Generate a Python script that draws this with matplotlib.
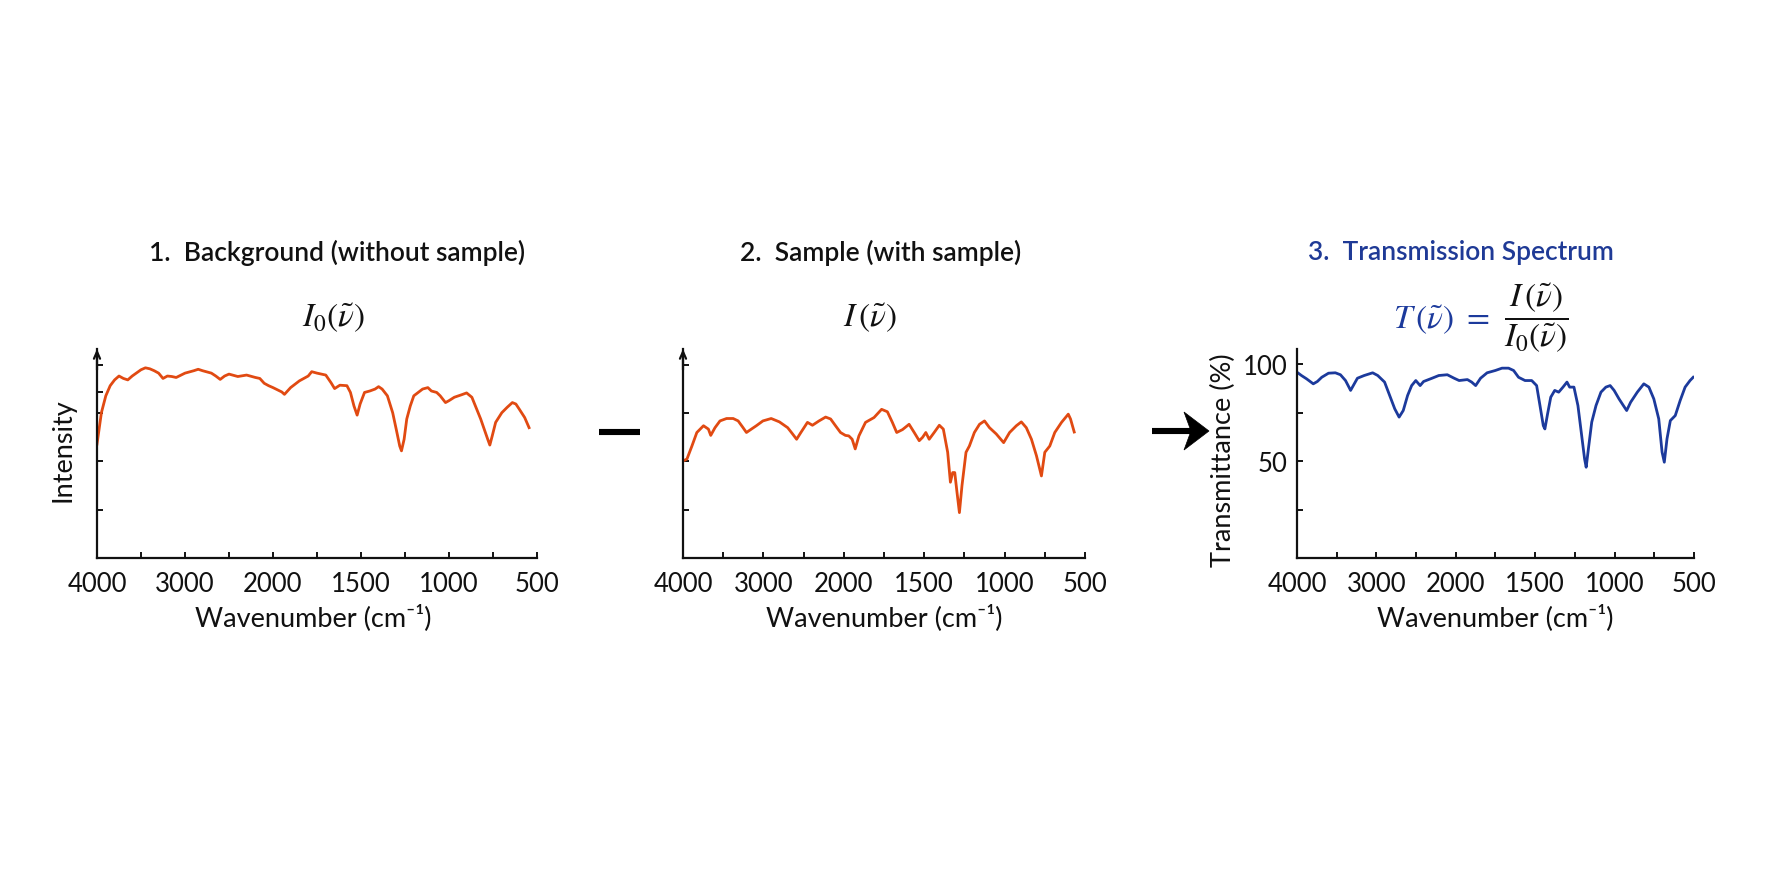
import numpy as np
import matplotlib
matplotlib.use("Agg")
import matplotlib.pyplot as plt
from matplotlib.lines import Line2D
from matplotlib.patches import Polygon

# ---------------- data ----------------
bg_wn = [4000, 3950, 3900, 3850, 3800, 3750, 3700, 3650, 3600, 3500, 3450, 3400, 3350,
         3300, 3250, 3200, 3150, 3100, 3000, 2900, 2850, 2800, 2700, 2650, 2600, 2550,
         2500, 2400, 2300, 2200, 2150, 2100, 2050, 2000, 1950, 1935, 1900, 1850, 1800,
         1780, 1750, 1700, 1670, 1650, 1620, 1580, 1560, 1540, 1522, 1505, 1480, 1450,
         1420, 1400, 1380, 1350, 1320, 1300, 1280, 1270, 1255, 1240, 1220, 1200, 1150,
         1120, 1100, 1070, 1050, 1020, 1000, 970, 930, 900, 870, 850, 820, 800, 780,
         768, 755, 735, 700, 670, 640, 620, 600, 570, 545]
bg_int = [2.36, 3.01, 3.36, 3.57, 3.69, 3.77, 3.72, 3.69, 3.77, 3.90, 3.94, 3.92, 3.88,
          3.83, 3.72, 3.77, 3.76, 3.74, 3.83, 3.88, 3.91, 3.88, 3.83, 3.77, 3.70, 3.77,
          3.81, 3.76, 3.79, 3.74, 3.72, 3.62, 3.57, 3.53, 3.44, 3.39, 3.53, 3.67, 3.77,
          3.86, 3.83, 3.79, 3.63, 3.51, 3.58, 3.57, 3.43, 3.15, 2.96, 3.19, 3.43, 3.46,
          3.50, 3.55, 3.50, 3.36, 3.01, 2.67, 2.32, 2.22, 2.46, 2.88, 3.15, 3.36, 3.50,
          3.53, 3.46, 3.43, 3.36, 3.22, 3.26, 3.33, 3.38, 3.42, 3.33, 3.15, 2.88, 2.67,
          2.46, 2.34, 2.52, 2.81, 3.01, 3.12, 3.22, 3.19, 3.08, 2.91, 2.70]

smp_wn = [4000, 3951, 3889, 3828, 3745, 3684, 3655, 3602, 3540, 3458, 3376, 3314, 3253,
          3211, 3150, 3088, 3006, 2903, 2801, 2698, 2637, 2587, 2534, 2452, 2390, 2308,
          2226, 2164, 2103, 2041, 1990, 1969, 1948, 1929, 1906, 1865, 1812, 1765, 1729,
          1698, 1671, 1635, 1594, 1562, 1531, 1510, 1490, 1469, 1438, 1406, 1381, 1354,
          1337, 1323, 1310, 1296, 1281, 1265, 1240, 1219, 1188, 1156, 1125, 1094, 1052,
          1006, 969, 927, 896, 865, 833, 802, 771, 750, 719, 688, 646, 604, 590, 567]
smp_int = [2.01, 2.05, 2.32, 2.60, 2.74, 2.67, 2.54, 2.70, 2.84, 2.89, 2.89, 2.84, 2.70,
           2.60, 2.67, 2.74, 2.84, 2.89, 2.82, 2.70, 2.57, 2.46, 2.60, 2.81, 2.75, 2.84,
           2.92, 2.88, 2.74, 2.60, 2.54, 2.53, 2.46, 2.26, 2.53, 2.81, 2.91, 3.08, 3.03,
           2.81, 2.60, 2.66, 2.77, 2.60, 2.43, 2.50, 2.60, 2.46, 2.60, 2.75, 2.67, 2.19,
           1.57, 1.77, 1.77, 1.36, 0.94, 1.50, 2.19, 2.32, 2.60, 2.77, 2.84, 2.70, 2.57,
           2.39, 2.60, 2.74, 2.82, 2.70, 2.46, 2.12, 1.70, 2.19, 2.32, 2.60, 2.81, 2.98,
           2.88, 2.61]

tr_wn = [4000, 3944, 3880, 3795, 3744, 3688, 3603, 3517, 3453, 3389, 3346, 3325, 3291,
         3239, 3154, 3047, 2983, 2897, 2833, 2769, 2714, 2662, 2607, 2556, 2504, 2449,
         2406, 2299, 2214, 2107, 2021, 1979, 1927, 1900, 1875, 1844, 1803, 1751, 1709,
         1668, 1636, 1605, 1564, 1522, 1491, 1470, 1449, 1439, 1422, 1402, 1377, 1352,
         1325, 1300, 1283, 1256, 1231, 1210, 1189, 1179, 1165, 1144, 1117, 1086, 1055,
         1028, 1003, 972, 945, 924, 899, 857, 816, 784, 753, 722, 701, 687, 670, 649,
         618, 587, 556, 525, 505]
tr_pct = [96.0, 94.3, 92.6, 90.0, 91.2, 93.4, 95.5, 95.7, 94.7, 91.7, 88.3, 86.6, 89.1,
          92.9, 94.3, 95.7, 94.3, 90.9, 84.0, 77.1, 72.8, 76.2, 84.0, 89.1, 91.7, 89.1,
          91.2, 92.9, 94.3, 94.7, 92.9, 91.7, 92.2, 90.9, 89.1, 92.9, 95.7, 96.9, 98.1,
          98.1, 96.9, 93.4, 91.7, 91.7, 89.1, 78.8, 68.4, 66.7, 74.5, 83.1, 86.6, 85.7,
          88.3, 90.9, 88.3, 88.3, 78.8, 65.0, 51.2, 46.9, 56.4, 70.2, 78.8, 85.7, 88.3,
          89.1, 86.6, 82.2, 78.8, 76.2, 80.5, 85.7, 90.0, 88.3, 82.2, 71.9, 54.7, 49.5,
          61.6, 71.0, 73.6, 81.4, 88.3, 91.7, 93.4]

x_major = [4000, 3000, 2000, 1500, 1000, 500]
x_minor = [3500, 2500, 1750, 1250, 750]
tr_ticks = [0, 25, 50, 75, 100]
tr_labels = ["", "", "50", "", "100"]

titles = ["1.  Background (without sample)", "2.  Sample (with sample)", "3.  Transmission Spectrum"]

ORANGE = "#e14a12"
BLUE = "#1c3a9c"
TITLE_BLUE = "#1f3a96"
DARK = "#111111"

plt.rcParams["font.family"] = ["Lato", "DejaVu Sans"]
plt.rcParams["mathtext.fontset"] = "stix"

W, H = 1774, 887
fig = plt.figure(figsize=(W / 100, H / 100), dpi=100)


def fwd(w):
    w = np.asarray(w, dtype=float)
    return np.where(w <= 2000, w / 500.0, 4.0 + (w - 2000.0) / 1000.0)


def inv(v):
    v = np.asarray(v, dtype=float)
    return np.where(v <= 4.0, v * 500.0, 2000.0 + (v - 4.0) * 1000.0)


def fx(px):
    return px / W


def fy(py):
    return 1 - py / H


TICK_FS = 18.5


def make_ax(left_px, right_px, ylim, yticks, arrow=True):
    bottom_px, top_px = 559, 350
    ax = fig.add_axes([fx(left_px), fy(bottom_px), (right_px - left_px) / W, (bottom_px - top_px) / H])
    ax.set_xscale("function", functions=(fwd, inv))
    ax.set_xlim(4000, 500)
    ax.set_ylim(*ylim)
    for s in ("top", "right"):
        ax.spines[s].set_visible(False)
    for s in ("left", "bottom"):
        ax.spines[s].set_linewidth(1.6)
        ax.spines[s].set_color(DARK)
    ax.set_xticks(x_major)
    ax.set_xticklabels([str(v) for v in x_major])
    ax.set_xticks(x_minor, minor=True)
    ax.set_yticks(yticks)
    ax.tick_params(axis="both", which="both", direction="in", length=4, width=1.4, color=DARK)
    ax.tick_params(axis="x", which="major", pad=9, labelsize=TICK_FS, labelcolor=DARK)
    ax.tick_params(axis="y", which="major", pad=7, labelsize=TICK_FS, labelcolor=DARK)
    ax.yaxis.set_minor_locator(matplotlib.ticker.NullLocator())
    if arrow:
        ax.annotate("", xy=(0, 1.0), xytext=(0, 0.9), xycoords="axes fraction",
                    arrowprops=dict(arrowstyle="->,head_length=0.5,head_width=0.22", lw=1.6,
                                    color=DARK, shrinkA=0, shrinkB=0))
    ax.patch.set_alpha(0)
    return ax


# Panel 1
ax1 = make_ax(97, 537, (0, 4.33), [1, 2, 3, 3.43, 4])
ax1.set_yticklabels([])
ax1.plot(bg_wn, bg_int, color=ORANGE, lw=2.0, solid_joinstyle="round")

# Panel 2
ax2 = make_ax(683, 1085, (0, 4.33), [1, 2, 3, 4])
ax2.set_yticklabels([])
ax2.plot(smp_wn, smp_int, color=ORANGE, lw=2.0, solid_joinstyle="round")

# Panel 3
ax3 = make_ax(1297, 1694, (0, 108), tr_ticks, arrow=False)
ax3.set_yticklabels(tr_labels)
ax3.plot(tr_wn, tr_pct, color=BLUE, lw=2.0, solid_joinstyle="round")

# axis labels
lab_kw = dict(fontsize=19.5, color=DARK, ha="center", va="center")
fig.text(fx(313), fy(618), "Wavenumber (cm⁻¹)", **lab_kw)
fig.text(fx(884), fy(618), "Wavenumber (cm⁻¹)", **lab_kw)
fig.text(fx(1495), fy(618), "Wavenumber (cm⁻¹)", **lab_kw)
fig.text(fx(63), fy(450), "Intensity", rotation=90, **lab_kw)
fig.text(fx(1223), fy(460), "Transmittance (%)", rotation=90, **lab_kw)

# titles
t_kw = dict(fontsize=19, fontweight="semibold", ha="center", va="center")
fig.text(fx(337), fy(253), titles[0], color=DARK, **t_kw)
fig.text(fx(881), fy(253), titles[1], color=DARK, **t_kw)
fig.text(fx(1461), fy(253), titles[2], color=TITLE_BLUE, **t_kw)

# formulas
f_kw = dict(fontsize=24, ha="center", va="center")
fig.text(fx(333), fy(318), r"$I_0(\tilde{\nu})$", color=DARK, **f_kw)
fig.text(fx(870), fy(318), r"$I\,(\tilde{\nu})$", color=DARK, **f_kw)
fig.text(fx(1490), fy(320), r"$T\,(\tilde{\nu})\ =$", color=BLUE, ha="right", va="center", fontsize=24)
fig.text(fx(1504), fy(318), r"$\dfrac{I\,(\tilde{\nu})}{I_0(\tilde{\nu})}$", color=DARK, ha="left",
         va="center", fontsize=24)

# minus sign between panels 1 and 2
fig.add_artist(Line2D([fx(599), fx(640)], [fy(433), fy(433)], transform=fig.transFigure,
                      color="black", lw=4.4, solid_capstyle="butt"))
# arrow between panels 2 and 3
fig.add_artist(Line2D([fx(1152), fx(1192)], [fy(432), fy(432)], transform=fig.transFigure,
                      color="black", lw=4.4, solid_capstyle="butt"))
fig.add_artist(Polygon([[fx(1209), fy(432)], [fx(1184), fy(413)], [fx(1191), fy(432)],
                        [fx(1184), fy(451)]], closed=True, transform=fig.transFigure,
                       facecolor="black", edgecolor="black", lw=0.5))

fig.savefig("out.png", dpi=100, facecolor="white")
